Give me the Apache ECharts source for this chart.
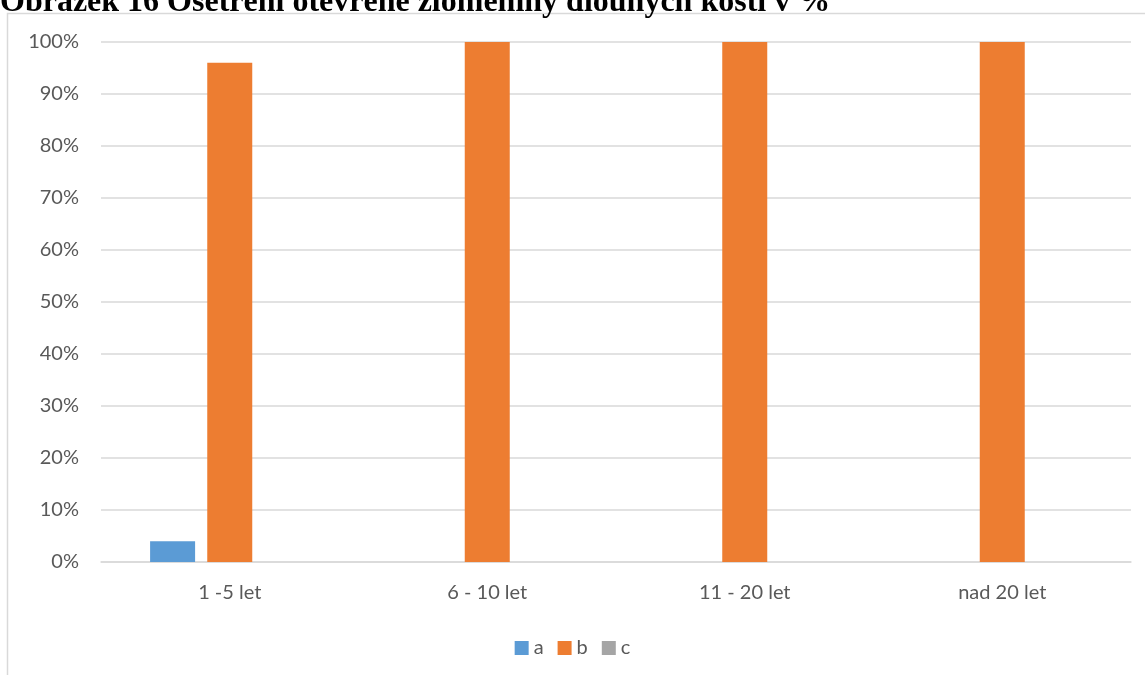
<!DOCTYPE html>
<html>
<head>
<meta charset="utf-8">
<script src="https://cdn.jsdelivr.net/npm/echarts@6/dist/echarts.min.js"></script>
<style>
  html, body { margin: 0; padding: 0; background: #fff; }
  #chart { width: 1145px; height: 675px; }
</style>
</head>
<body>
<div id="chart"></div>
<script>
// kategorie a hodnoty v %
var categories = ["1 -5 let", "6 - 10 let", "11 - 20 let", "nad 20 let"];
var seriesA = [4, 0, 0, 0];
var seriesB = [96, 100, 100, 100];
var seriesC = [0, 0, 0, 0];
var seriesNames = ["a", "b", "c"];
var colors = ["#5B9BD5", "#ED7D31", "#A5A5A5"];
var titleText = "Obrázek 16 Ošetření otevřené zlomeniny dlouhých kostí v %";

var labelFont = "Lato, 'Open Sans', sans-serif";

function makeBar(name, data, color) {
    return {
        name: name,
        type: "bar",
        data: data,
        barWidth: 45,
        barGap: "27%",
        itemStyle: { color: color },
        emphasis: { disabled: true }
    };
}

var myChart = echarts.init(document.getElementById("chart"));
var option = {
    animation: false,
    color: colors,
    graphic: [
        {
            type: "rect",
            shape: { x: 7.5, y: 13.5, width: 1200, height: 700 },
            style: { fill: "none", stroke: "#d9d9d9", lineWidth: 1.5 },
            silent: true
        },
        {
            // nadpis je nahoře oříznutý, stejně jako v předloze
            type: "text",
            x: 0,
            y: -13,
            style: {
                text: titleText,
                font: "bold 32px 'Liberation Serif', 'DejaVu Serif', serif",
                fill: "#000"
            },
            silent: true
        }
    ],
    grid: { left: 101, right: 14, top: 42, bottom: 113, containLabel: false },
    legend: {
        bottom: 12,
        left: "center",
        itemWidth: 14,
        itemHeight: 14,
        itemGap: 14,
        icon: "rect",
        textStyle: { color: "#595959", fontSize: 20, fontFamily: labelFont },
        data: seriesNames
    },
    xAxis: {
        type: "category",
        data: categories,
        axisLine: { lineStyle: { color: "#d9d9d9", width: 1.5 } },
        axisTick: { show: false },
        axisLabel: { color: "#595959", fontSize: 20, fontFamily: labelFont, margin: 21 }
    },
    yAxis: {
        type: "value",
        min: 0,
        max: 100,
        interval: 10,
        axisLine: { show: false },
        axisTick: { show: false },
        splitLine: { lineStyle: { color: "#d9d9d9", width: 1.5 } },
        axisLabel: {
            color: "#595959", fontSize: 20, fontFamily: labelFont, margin: 22,
            formatter: "{value}%"
        }
    },
    series: [
        makeBar(seriesNames[0], seriesA, colors[0]),
        makeBar(seriesNames[1], seriesB, colors[1]),
        makeBar(seriesNames[2], seriesC, colors[2])
    ]
};
myChart.setOption(option);
</script>
</body>
</html>
